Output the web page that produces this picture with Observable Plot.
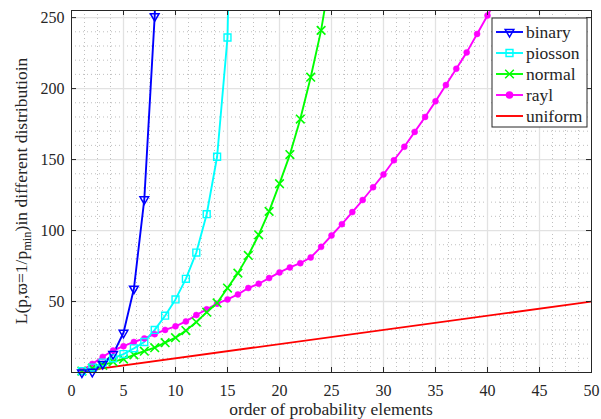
<!DOCTYPE html>
<html><head><meta charset="utf-8">
<script src="https://cdn.jsdelivr.net/npm/d3@7"></script>
<script src="https://cdn.jsdelivr.net/npm/@observablehq/plot@0.6"></script>
<style>
body{margin:0;background:#fff;}
#chart svg{display:block;}
#chart svg, #chart svg text, #chart svg tspan{font-family:"Liberation Serif",serif !important;}
</style>
</head><body><div id="chart"></div>
<script>
const seriesNames = ["binary", "piosson", "normal", "rayl", "uniform"];
const seriesColors = ["#0000ff", "#00ffff", "#00ff00", "#ff00ff", "#ff0000"];

// values at x = 1, 2, 3, ...
const binary = [0, 0.5, 6, 13, 28, 59, 122, 251, 506];
const piosson = [1, 3.5, 7, 10, 13, 17, 21.5, 30, 40, 51.5, 66, 84.5, 111.5, 152, 236, 600];
const normal = [1, 3, 5, 7.5, 9.5, 12.5, 15, 17.5, 21, 24.5, 29.5, 35.5, 42.5, 49, 59.5, 70, 82.5, 97, 113.5, 133, 153.5, 178.5, 208, 241, 285];
const rayl = [1.5, 6, 11, 15.5, 18.5, 21.5, 24, 27, 30, 32.5, 36, 40.5, 44.5, 48.5, 51.5, 55, 59.5, 62.5, 66.5, 70.5, 74, 77, 81, 88.5, 96.5, 104.5, 113, 121.5, 130.5, 139.5, 149.5, 159, 169.5, 180, 191, 202.5, 214, 225.5, 238.5, 251.5, 265];
const uniformX = [1, 50];
const uniformY = [1, 50];

const xTicks = [0, 5, 10, 15, 20, 25, 30, 35, 40, 45, 50];
const yTicks = [50, 100, 150, 200, 250];
const xMinor = d3.range(0, 50.01, 1.25).filter(v => v % 5 !== 0);
const yMinor = d3.range(10, 256, 10).filter(v => v % 50 !== 0);

const yMax = 255;
const toRows = (name, arr) => arr.map((v, i) => ({series: name, x: i + 1, y: v}));
const rowsB = toRows("binary", binary);
const rowsP = toRows("piosson", piosson);
const rowsN = toRows("normal", normal);
const rowsR = toRows("rayl", rayl);
const rowsU = uniformX.map((x, i) => ({series: "uniform", x, y: uniformY[i]}));
const inside = rows => rows.filter(d => d.y <= yMax);

const triDown = {
  draw(ctx, size) {
    const r = Math.sqrt(size / Math.PI) * 1.25;
    ctx.moveTo(0, r);
    ctx.lineTo(-0.866 * r, -0.5 * r);
    ctx.lineTo(0.866 * r, -0.5 * r);
    ctx.closePath();
  }
};

const FONT = "Liberation Serif, serif";
const FW = 601 - 71 - 10, FH = 419 - 10 - 47;
const tickLen = 5;
const LW = 1.9;
const lineOpt = (c) => ({x: "x", y: "y", stroke: c, strokeWidth: LW, clip: true});

const chart = Plot.plot({
  width: 601, height: 419,
  marginLeft: 71, marginRight: 10, marginTop: 10, marginBottom: 47,
  x: {domain: [0, 50]},
  y: {domain: [0, yMax]},
  style: {fontFamily: FONT, fontSize: "16px", background: "#fff", color: "#262626"},
  marks: [
    Plot.ruleX(xMinor, {stroke: "#b8b8b8", strokeWidth: 0.9, strokeDasharray: "1,3"}),
    Plot.ruleY(yMinor, {stroke: "#b8b8b8", strokeWidth: 0.9, strokeDasharray: "1,3"}),
    Plot.ruleX(xTicks.slice(1, -1), {stroke: "#e2e2e2", strokeWidth: 1.3}),
    Plot.ruleY(yTicks, {stroke: "#e2e2e2", strokeWidth: 1.3}),
    Plot.line(rowsU, lineOpt(seriesColors[4])),
    Plot.line(rowsR, lineOpt(seriesColors[3])),
    Plot.line(rowsN, lineOpt(seriesColors[2])),
    Plot.line(rowsP, lineOpt(seriesColors[1])),
    Plot.line(rowsB, lineOpt(seriesColors[0])),
    Plot.dot(inside(rowsR), {x: "x", y: "y", r: 3, fill: seriesColors[3], stroke: seriesColors[3], strokeWidth: 0.5}),
    Plot.dot(inside(rowsN), {x: "x", y: "y", r: 4, symbol: "times", stroke: seriesColors[2], strokeWidth: 1.6}),
    Plot.dot(inside(rowsP), {x: "x", y: "y", r: 3.9, symbol: "square", fill: "none", stroke: seriesColors[1], strokeWidth: 1.4}),
    Plot.dot(inside(rowsB), {x: "x", y: "y", r: 4, symbol: triDown, fill: "none", stroke: seriesColors[0], strokeWidth: 1.5}),
    Plot.frame({stroke: "#262626", strokeWidth: 1}),
    Plot.ruleX(xTicks, {stroke: "#262626", insetTop: FH - tickLen}),
    Plot.ruleX(xTicks, {stroke: "#262626", insetBottom: FH - tickLen}),
    Plot.ruleY([0, ...yTicks], {stroke: "#262626", insetRight: FW - tickLen}),
    Plot.ruleY([0, ...yTicks], {stroke: "#262626", insetLeft: FW - tickLen}),
    Plot.axisX(xTicks, {tickSize: 0, tickPadding: 12, label: null, fontSize: 16}),
    Plot.axisY(yTicks, {tickSize: 0, tickPadding: 7, label: null, fontSize: 16})
  ]
});

const svg = d3.select(chart);
svg.append("text")
  .attr("x", 71 + FW / 2).attr("y", 415)
  .attr("text-anchor", "middle")
  .attr("fill", "#262626")
  .style("font-family", FONT)
  .style("font-size", "17.5px")
  .text("order of probability elements");

const yl = svg.append("text")
  .attr("transform", `translate(27,${10 + FH / 2}) rotate(-90)`)
  .attr("text-anchor", "middle")
  .attr("fill", "#262626")
  .style("font-family", FONT)
  .style("font-size", "17.5px");
yl.append("tspan").text("L(p,ϖ=1/p");
yl.append("tspan").text("min").style("font-size", "12.5px").attr("dy", 4);
yl.append("tspan").text(")in different distributioin").attr("dy", -4);

// legend
const lg = svg.append("g");
const lx = 492, ly = 18, lw = 95, lh = 109, rowH = 21;
lg.append("rect").attr("x", lx).attr("y", ly).attr("width", lw).attr("height", lh)
  .attr("fill", "#fff").attr("stroke", "#262626").attr("stroke-width", 1);
const legendSymbols = [triDown, d3.symbolSquare, d3.symbolTimes, d3.symbolCircle, null];
const legendSizes = [Math.PI * 16, Math.PI * 15, Math.PI * 16, Math.PI * 9, 0];
seriesNames.forEach((name, i) => {
  const cy = ly + 14 + i * rowH;
  lg.append("line").attr("x1", lx + 4).attr("x2", lx + 31).attr("y1", cy).attr("y2", cy)
    .attr("stroke", seriesColors[i]).attr("stroke-width", LW);
  if (legendSymbols[i]) {
    const filled = name === "rayl";
    lg.append("path")
      .attr("d", d3.symbol(legendSymbols[i], legendSizes[i])())
      .attr("transform", `translate(${lx + 17.5},${cy})`)
      .attr("fill", filled ? seriesColors[i] : "none")
      .attr("stroke", seriesColors[i]).attr("stroke-width", 1.5);
  }
  lg.append("text").attr("x", lx + 34).attr("y", cy).attr("dy", "0.33em")
    .attr("text-anchor", "start")
    .attr("fill", "#262626")
    .style("font-family", FONT)
    .style("font-size", "17.5px").text(name);
});

document.getElementById("chart").appendChild(chart);
</script>
</body></html>
